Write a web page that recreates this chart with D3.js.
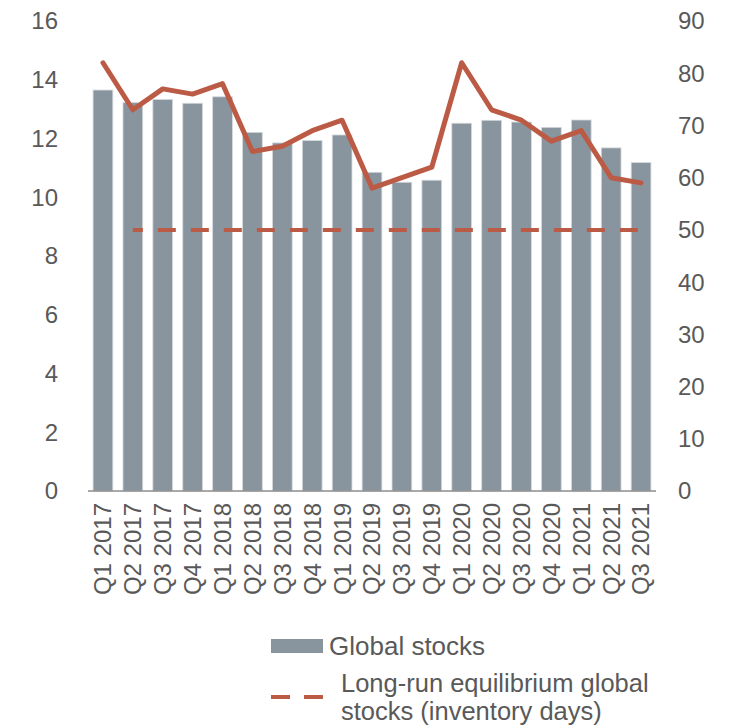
<!DOCTYPE html>
<html>
<head>
<meta charset="utf-8">
<script src="https://cdn.jsdelivr.net/npm/d3@7"></script>
<style>
  body { margin: 0; background: #fff; }
  text { font-family: "Liberation Sans", Arial, sans-serif; fill: #595959; }
</style>
</head>
<body>
<svg id="chart" width="737" height="728"></svg>
<script>
// quarters along the x axis
const quarters = ['Q1 2017', 'Q2 2017', 'Q3 2017', 'Q4 2017', 'Q1 2018', 'Q2 2018', 'Q3 2018', 'Q4 2018',
  'Q1 2019', 'Q2 2019', 'Q3 2019', 'Q4 2019', 'Q1 2020', 'Q2 2020', 'Q3 2020', 'Q4 2020',
  'Q1 2021', 'Q2 2021', 'Q3 2021'];
// global stocks (bars, left axis)
const globalStocks = [13.65, 13.22, 13.33, 13.2, 13.42, 12.21, 11.85, 11.93, 12.12, 10.85,
  10.51, 10.58, 12.52, 12.62, 12.56, 12.38, 12.63, 11.68, 11.18];
// inventory days (solid line, right axis)
const inventoryDays = [82, 73, 77, 76, 78, 65, 66, 69, 71, 58, 60, 62, 82, 73, 71, 67, 69, 60, 59];
// long-run equilibrium (dashed line, right axis)
const equilibrium = [null, 50, 50, 50, 50, 50, 50, 50, 50, 50, 50, 50, 50, 50, 50, 50, 50, 50, 50];
const leftTicks = [0, 2, 4, 6, 8, 10, 12, 14, 16];
const rightTicks = [0, 10, 20, 30, 40, 50, 60, 70, 80, 90];

const barColor = '#89959e';
const lineColor = '#bb5b45';

const svg = d3.select('#chart');

const x = d3.scaleBand().domain(quarters).range([88, 656]).paddingInner(0.34).paddingOuter(0.17);
const yLeft = d3.scaleLinear().domain([0, 16]).range([491, 21]);
const yRight = d3.scaleLinear().domain([0, 90]).range([491, 21]);
const cx = q => x(q) + x.bandwidth() / 2;

// bars
svg.append('g')
  .selectAll('rect')
  .data(quarters)
  .join('rect')
  .attr('x', d => x(d))
  .attr('y', (d, i) => yLeft(globalStocks[i]))
  .attr('width', x.bandwidth())
  .attr('height', (d, i) => yLeft(0) - yLeft(globalStocks[i]))
  .attr('fill', barColor)
  .attr('stroke', '#d5dadd')
  .attr('stroke-width', 0.8);

// axis baseline
svg.append('line')
  .attr('x1', 88).attr('x2', 656)
  .attr('y1', yLeft(0)).attr('y2', yLeft(0))
  .attr('stroke', '#8c8c8c')
  .attr('stroke-width', 1.5);

// left tick labels
svg.append('g')
  .selectAll('text')
  .data(leftTicks)
  .join('text')
  .attr('x', 58)
  .attr('y', d => yLeft(d))
  .attr('dy', '0.35em')
  .attr('text-anchor', 'end')
  .style('font-size', '24px')
  .text(d => d);

// right tick labels
svg.append('g')
  .selectAll('text')
  .data(rightTicks)
  .join('text')
  .attr('x', 678)
  .attr('y', d => yRight(d))
  .attr('dy', '0.35em')
  .attr('text-anchor', 'start')
  .style('font-size', '24px')
  .text(d => d);

// x labels, rotated
svg.append('g')
  .selectAll('text')
  .data(quarters)
  .join('text')
  .attr('transform', d => `translate(${cx(d)},503) rotate(-90)`)
  .attr('dy', '0.35em')
  .attr('text-anchor', 'end')
  .style('font-size', '24px')
  .text(d => d);

// equilibrium dashed line
const eqLine = d3.line()
  .defined(d => d[1] !== null)
  .x(d => cx(d[0]))
  .y(d => yRight(d[1]));
svg.append('path')
  .datum(quarters.map((q, i) => [q, equilibrium[i]]))
  .attr('d', eqLine)
  .attr('fill', 'none')
  .attr('stroke', lineColor)
  .attr('stroke-width', 4)
  .attr('stroke-dasharray', '18,15')
  .attr('stroke-dashoffset', 8);

// inventory days line
const invLine = d3.line()
  .x(d => cx(d[0]))
  .y(d => yRight(d[1]));
svg.append('path')
  .datum(quarters.map((q, i) => [q, inventoryDays[i]]))
  .attr('d', invLine)
  .attr('fill', 'none')
  .attr('stroke', lineColor)
  .attr('stroke-width', 5)
  .attr('stroke-linejoin', 'round')
  .attr('stroke-linecap', 'round');

// legend
const legend = svg.append('g');
legend.append('rect')
  .attr('x', 271).attr('y', 639)
  .attr('width', 52).attr('height', 14)
  .attr('fill', barColor);
legend.append('text')
  .attr('x', 329).attr('y', 655)
  .style('font-size', '26px')
  .text('Global stocks');
legend.append('line')
  .attr('x1', 271).attr('x2', 324)
  .attr('y1', 697).attr('y2', 697)
  .attr('stroke', lineColor)
  .attr('stroke-width', 4)
  .attr('stroke-dasharray', '19,14');
legend.append('text')
  .attr('x', 341).attr('y', 692)
  .style('font-size', '25.5px')
  .text('Long-run equilibrium global');
legend.append('text')
  .attr('x', 341).attr('y', 720)
  .style('font-size', '25.5px')
  .text('stocks (inventory days)');
</script>
</body>
</html>
